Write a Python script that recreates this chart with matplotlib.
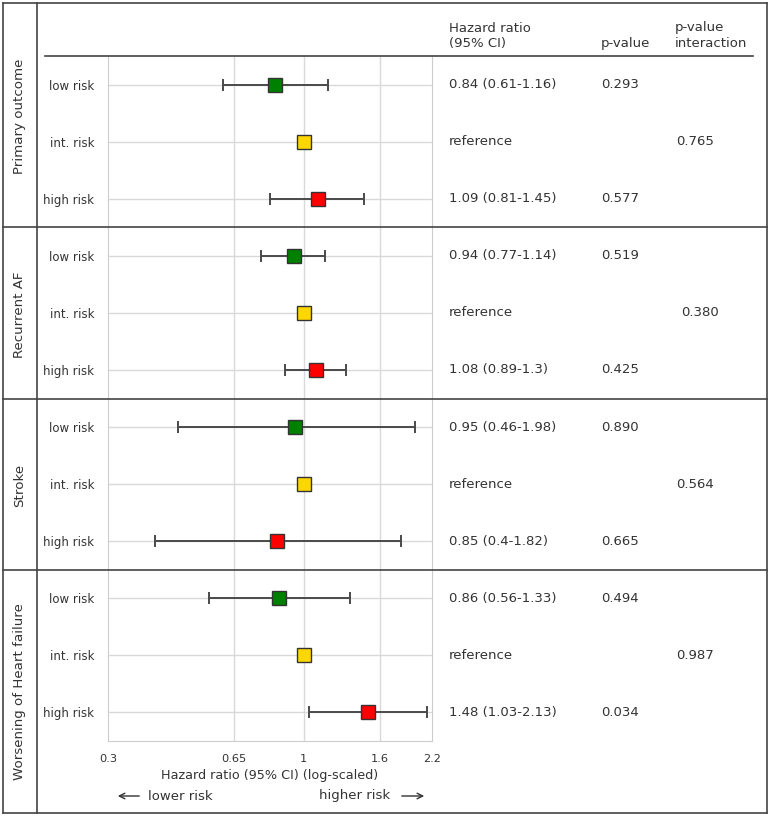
import numpy as np
import matplotlib
matplotlib.use("Agg")
import matplotlib.pyplot as plt
from matplotlib.lines import Line2D
from matplotlib import transforms

groups = ["Primary outcome", "Recurrent AF", "Stroke", "Worsening of Heart failure"]
risk_labels = ["low risk", "int. risk", "high risk"]
risk_colors = ["#008000", "#FFD700", "#FF0000"]

hr = [0.84, 1.00, 1.09, 0.94, 1.00, 1.08, 0.95, 1.00, 0.85, 0.86, 1.00, 1.48]
ci_low = [0.61, np.nan, 0.81, 0.77, np.nan, 0.89, 0.46, np.nan, 0.40, 0.56, np.nan, 1.03]
ci_high = [1.16, np.nan, 1.45, 1.14, np.nan, 1.30, 1.98, np.nan, 1.82, 1.33, np.nan, 2.13]
hr_text = [
    "0.84 (0.61-1.16)", "reference", "1.09 (0.81-1.45)",
    "0.94 (0.77-1.14)", "reference", "1.08 (0.89-1.3)",
    "0.95 (0.46-1.98)", "reference", "0.85 (0.4-1.82)",
    "0.86 (0.56-1.33)", "reference", "1.48 (1.03-2.13)",
]
p_values = ["0.293", "", "0.577", "0.519", "", "0.425",
            "0.890", "", "0.665", "0.494", "", "0.034"]
p_interaction = ["0.765", "0.380", "0.564", "0.987"]
x_ticks = [0.3, 0.65, 1, 1.6, 2.2]
x_tick_labels = ["0.3", "0.65", "1", "1.6", "2.2"]

W, H = 769, 816
TXT = "#333333"
FRAME = "#444444"
GRID = "#d9d9d9"


def fx(px):
    return px / W


def fy(py):
    return 1 - py / H


plt.rcParams["font.family"] = "DejaVu Sans"
fig = plt.figure(figsize=(W / 100, H / 100), dpi=100)
ax = fig.add_axes([fx(108), fy(741), fx(432) - fx(108), fy(56) - fy(741)])

n = len(hr)
rows = np.arange(n)
ax.set_xscale("log")
ax.set_xlim(0.3, 2.2)
ax.set_ylim(n - 0.5, -0.5)

for r in rows:
    ax.axhline(r, color=GRID, lw=1.0, zorder=0)
for t in x_ticks[1:-1]:
    ax.axvline(t, color=GRID, lw=1.0, zorder=0)

hr_arr = np.array(hr)
lo = np.array(ci_low)
hi = np.array(ci_high)
has_ci = ~np.isnan(lo)
ax.errorbar(hr_arr[has_ci], rows[has_ci],
            xerr=[hr_arr[has_ci] - lo[has_ci], hi[has_ci] - hr_arr[has_ci]],
            fmt="none", ecolor="#4a4a4a", elinewidth=1.4, capsize=4,
            capthick=1.4, zorder=2)
for r in rows:
    ax.plot(hr[r], r, marker="s", markersize=10.5, linestyle="none",
            markerfacecolor=risk_colors[r % 3], markeredgecolor="#333333",
            markeredgewidth=1.0, zorder=3)

ax.set_xticks(x_ticks)
ax.set_xticklabels(x_tick_labels)
ax.xaxis.set_minor_locator(matplotlib.ticker.NullLocator())
ax.set_yticks(rows)
ax.set_yticklabels([risk_labels[r % 3] for r in rows])
ax.tick_params(axis="x", length=0, pad=9, labelsize=8.2, labelcolor=TXT)
ax.tick_params(axis="y", length=0, pad=10, labelsize=8.5, labelcolor=TXT)
for side in ["left", "right", "bottom"]:
    ax.spines[side].set_color("#cccccc")
ax.spines["top"].set_visible(False)
ax.set_xlabel("Hazard ratio (95% CI) (log-scaled)", fontsize=9.2, color=TXT,
              labelpad=4)

# table columns
blend = transforms.blended_transform_factory(fig.transFigure, ax.transData)
for r in rows:
    fig.text(fx(449), r, hr_text[r], transform=blend, va="center",
             ha="left", fontsize=9.5, color=TXT)
    if p_values[r]:
        fig.text(fx(601), r, p_values[r], transform=blend, va="center",
                 ha="left", fontsize=9.5, color=TXT)
int_x = [676, 681, 676, 676]
for g, val in enumerate(p_interaction):
    fig.text(fx(int_x[g]), 3 * g + 1, val, transform=blend, va="center",
             ha="left", fontsize=9.5, color=TXT)

fig.text(fx(449), fy(50), "Hazard ratio\n(95% CI)", ha="left", va="bottom",
         fontsize=9.5, color=TXT, linespacing=1.25)
fig.text(fx(601), fy(50), "p-value", ha="left", va="bottom",
         fontsize=9.5, color=TXT)
fig.text(fx(675), fy(50), "p-value\ninteraction", ha="left", va="bottom",
         fontsize=9.5, color=TXT, linespacing=1.25)

# frame and separators
def fline(x0, y0, x1, y1, color=FRAME, lw=1.2):
    fig.add_artist(Line2D([fx(x0), fx(x1)], [fy(y0), fy(y1)], color=color,
                          lw=lw, transform=fig.transFigure))


fline(3, 3, 767, 3)
fline(3, 813, 767, 813)
fline(3, 3, 3, 813)
fline(767, 3, 767, 813)
fline(37, 3, 37, 813)
fline(45, 56, 753, 56)
for b in [2.5, 5.5, 8.5]:
    fig.add_artist(Line2D([fx(3), fx(767)], [b, b], color=FRAME, lw=1.2,
                          transform=blend))

# group labels
bounds = [3, 229, 400, 570, 813]
for g, name in enumerate(groups):
    yc = (bounds[g] + bounds[g + 1]) / 2
    fig.text(fx(20), fy(yc), name, rotation=90, ha="center", va="center",
             fontsize=9.6, color=TXT)

# direction hints
fig.text(fx(148), fy(796), "lower risk", ha="left", va="center",
         fontsize=9.5, color=TXT)
fig.text(fx(390), fy(796), "higher risk", ha="right", va="center",
         fontsize=9.5, color=TXT)
fig.add_artist(matplotlib.patches.FancyArrowPatch(
    (fx(142), fy(796)), (fx(115), fy(796)), transform=fig.transFigure,
    arrowstyle="->,head_length=4,head_width=2", color=TXT, lw=1.0))
fig.add_artist(matplotlib.patches.FancyArrowPatch(
    (fx(399), fy(796)), (fx(427), fy(796)), transform=fig.transFigure,
    arrowstyle="->,head_length=4,head_width=2", color=TXT, lw=1.0))

fig.savefig("out.png", dpi=100)
